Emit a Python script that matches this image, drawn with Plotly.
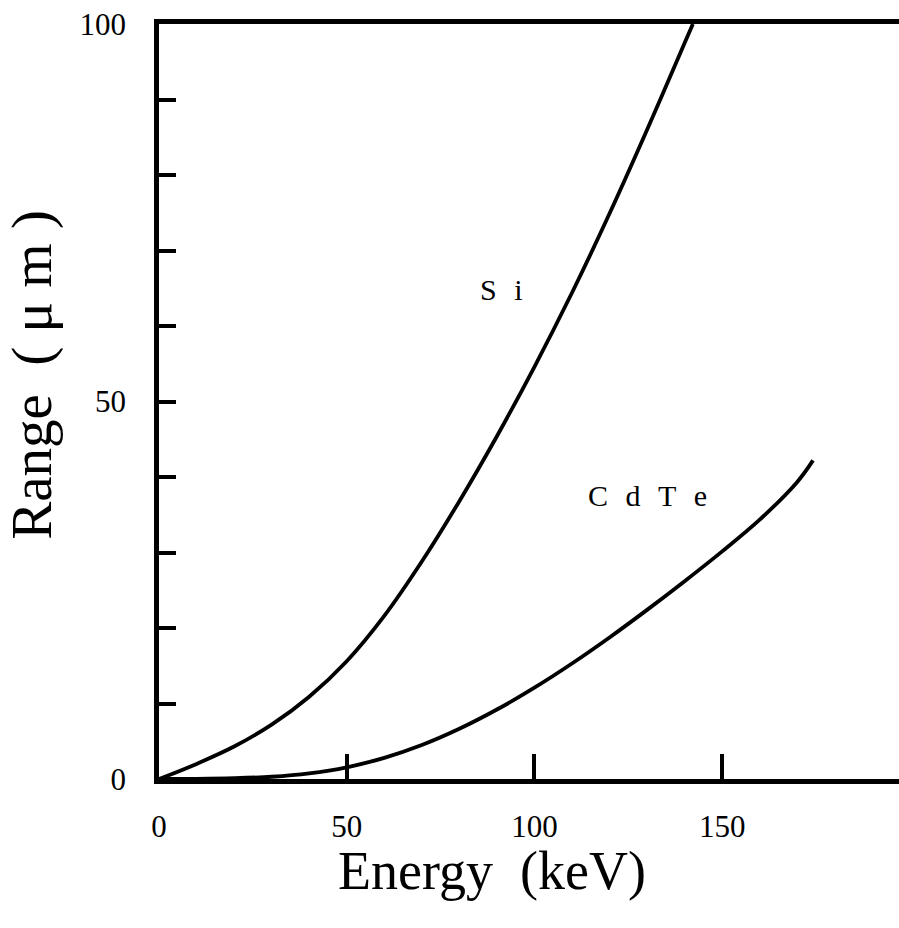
import plotly.graph_objects as go

# Electron range vs. energy in silicon and CdTe
si_energy = [0, 10, 20, 30, 40, 50, 60, 70, 80, 90, 100, 110, 120, 130, 140, 142.2]
si_range = [0, 2.0, 4.3, 7.2, 10.9, 15.6, 21.6, 28.8, 36.8, 45.4, 54.6, 64.4, 74.9, 86.0, 97.5, 100.0]

cdte_energy = [0, 10, 20, 30, 40, 50, 60, 70, 80, 90, 100, 110, 120, 130, 140, 150, 160, 170, 174.2]
cdte_range = [0, 0.02, 0.1, 0.3, 0.75, 1.55, 2.8, 4.5, 6.65, 9.2, 12.1, 15.3, 18.75, 22.4, 26.2, 30.15, 34.35, 39.35, 42.2]

x_tickvals = [0, 50, 100, 150]
y_tickvals = [0, 50, 100]

FONT = "Liberation Serif"
NB = "\u00a0"
GAP = "\u2002\u200a"

fig = go.Figure()
for xs, ys in [(si_energy, si_range), (cdte_energy, cdte_range)]:
    fig.add_trace(go.Scatter(
        x=xs, y=ys, mode="lines",
        line=dict(color="black", width=3.8, shape="spline", smoothing=1.0),
        showlegend=False, hoverinfo="skip",
    ))

# curve labels
fig.add_annotation(x=91.3, y=64.8, text="S" + GAP + "i", showarrow=False,
                   font=dict(family=FONT, size=30, color="black"))
fig.add_annotation(x=130.2, y=37.6, text=GAP.join(["C", "d", "T", "e"]), showarrow=False,
                   font=dict(family=FONT, size=30, color="black"))

# axis titles
fig.add_annotation(x=0.45, y=-0.122, xref="paper", yref="paper",
                   text="Energy" + "\u2002" + "(keV)", showarrow=False,
                   xanchor="center", yanchor="middle",
                   font=dict(family=FONT, size=54, color="black"))
fig.add_annotation(x=-0.172, y=0.535, xref="paper", yref="paper",
                   text="Range\u2002(" + NB + "\u03bc" + NB + "m" + NB + ")", showarrow=False,
                   textangle=-90, xanchor="center", yanchor="middle",
                   font=dict(family=FONT, size=57, color="black"))

fig.update_xaxes(
    range=[0, 197.1], tickvals=x_tickvals, ticktext=[str(v) for v in x_tickvals],
    ticks="inside", ticklen=25, tickwidth=4, tickcolor="black",
    showline=True, linewidth=4.5, linecolor="black", mirror=True,
    showgrid=False, zeroline=False, ticklabelstandoff=16,
    tickfont=dict(family=FONT, size=31, color="black"),
)
fig.update_yaxes(
    range=[0, 100], tickvals=y_tickvals, ticktext=[str(v) for v in y_tickvals],
    ticks="inside", ticklen=17, tickwidth=4, tickcolor="black",
    minor=dict(ticks="inside", ticklen=17, tickwidth=4, tickcolor="black", dtick=10, showgrid=False),
    showline=True, linewidth=4.5, linecolor="black", mirror=False,
    showgrid=False, zeroline=False, ticklabelstandoff=22,
    tickfont=dict(family=FONT, size=31, color="black"),
)

fig.update_layout(
    width=899, height=928,
    margin=dict(l=159, r=0, t=24, b=149),
    paper_bgcolor="white", plot_bgcolor="white",
)

fig.write_html("out.html")
